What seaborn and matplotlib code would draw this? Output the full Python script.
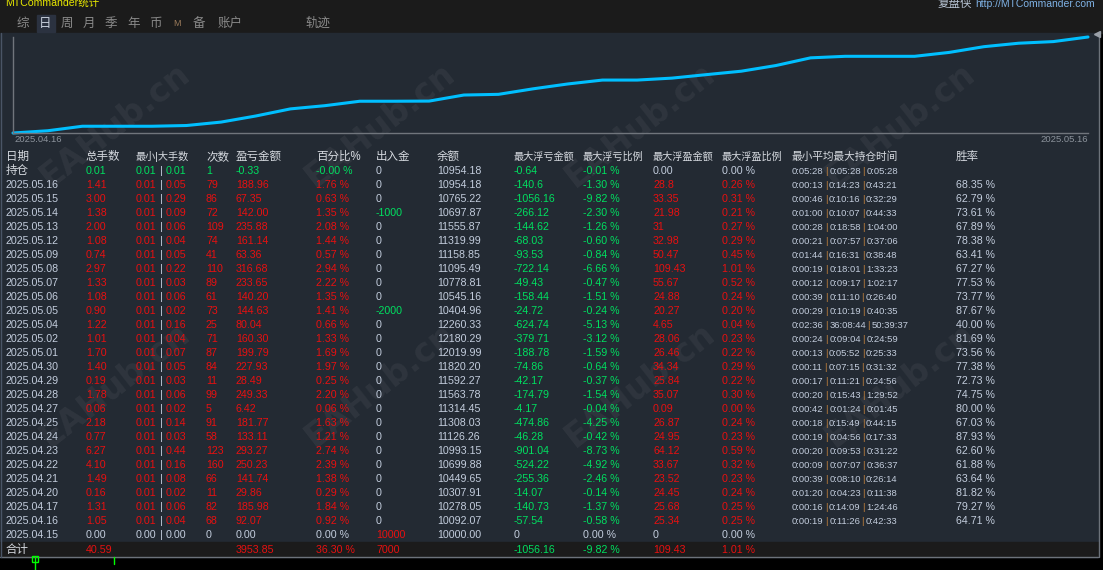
import numpy as np
import pandas as pd
import seaborn as sns
import matplotlib.pyplot as plt
from matplotlib.patches import Rectangle

# table data, newest first (first row is the open position)
row_labels = ['持仓', '2025.05.16', '2025.05.15', '2025.05.14', '2025.05.13', '2025.05.12', '2025.05.09',
              '2025.05.08', '2025.05.07', '2025.05.06', '2025.05.05', '2025.05.04', '2025.05.02', '2025.05.01',
              '2025.04.30', '2025.04.29', '2025.04.28', '2025.04.27', '2025.04.25', '2025.04.24', '2025.04.23',
              '2025.04.22', '2025.04.21', '2025.04.20', '2025.04.17', '2025.04.16', '2025.04.15']
lots_total = [0.01, 1.41, 3.00, 1.38, 2.00, 1.08, 0.74, 2.97, 1.33, 1.08, 0.90, 1.22, 1.01, 1.70,
              1.40, 0.19, 1.78, 0.06, 2.18, 0.77, 6.27, 4.10, 1.49, 0.16, 1.31, 1.05, 0.00]
lot_min = [0.01, 0.01, 0.01, 0.01, 0.01, 0.01, 0.01, 0.01, 0.01, 0.01, 0.01, 0.01, 0.01, 0.01,
           0.01, 0.01, 0.01, 0.01, 0.01, 0.01, 0.01, 0.01, 0.01, 0.01, 0.01, 0.01, 0.00]
lot_max = [0.01, 0.05, 0.29, 0.09, 0.06, 0.04, 0.05, 0.22, 0.03, 0.06, 0.02, 0.16, 0.04, 0.07,
           0.05, 0.03, 0.06, 0.02, 0.14, 0.03, 0.44, 0.16, 0.08, 0.02, 0.06, 0.04, 0.00]
trades = [1, 79, 86, 72, 109, 74, 41, 110, 89, 61, 73, 25, 71, 87, 84, 11, 99, 5, 91, 58, 123, 160,
          66, 11, 82, 68, 0]
pnl = [-0.33, 188.96, 67.35, 142.00, 235.88, 161.14, 63.36, 316.68, 233.65, 140.20, 144.63, 80.04,
       160.30, 199.79, 227.93, 28.49, 249.33, 6.42, 181.77, 133.11, 293.27, 250.23, 141.74, 29.86,
       185.98, 92.07, 0.00]
pnl_pct = [-0.003, 1.76, 0.63, 1.35, 2.08, 1.44, 0.57, 2.94, 2.22, 1.35, 1.41, 0.66, 1.33, 1.69,
           1.97, 0.25, 2.20, 0.06, 1.63, 1.21, 2.74, 2.39, 1.38, 0.29, 1.84, 0.92, 0.00]
cash_flow = [0, 0, 0, -1000, 0, 0, 0, 0, 0, 0, -2000, 0, 0, 0, 0, 0, 0, 0, 0, 0, 0, 0, 0, 0, 0, 0, 10000]
balance = [10954.18, 10954.18, 10765.22, 10697.87, 11555.87, 11319.99, 11158.85, 11095.49, 10778.81,
           10545.16, 10404.96, 12260.33, 12180.29, 12019.99, 11820.20, 11592.27, 11563.78, 11314.45,
           11308.03, 11126.26, 10993.15, 10699.88, 10449.65, 10307.91, 10278.05, 10092.07, 10000.00]
float_loss = ['-0.64', '-140.6', '-1056.16', '-266.12', '-144.62', '-68.03', '-93.53', '-722.14', '-49.43',
              '-158.44', '-24.72', '-624.74', '-379.71', '-188.78', '-74.86', '-42.17', '-174.79', '-4.17',
              '-474.86', '-46.28', '-901.04', '-524.22', '-255.36', '-14.07', '-140.73', '-57.54', '0']
float_loss_pct = [-0.01, -1.30, -9.82, -2.30, -1.26, -0.60, -0.84, -6.66, -0.47, -1.51, -0.24, -5.13,
                  -3.12, -1.59, -0.64, -0.37, -1.54, -0.04, -4.25, -0.42, -8.73, -4.92, -2.46, -0.14,
                  -1.37, -0.58, 0.00]
float_gain = ['0.00', '28.8', '33.35', '21.98', '31', '32.98', '50.47', '109.43', '55.67', '24.88', '20.27',
              '4.65', '28.06', '26.46', '34.34', '25.84', '35.07', '0.09', '26.87', '24.95', '64.12', '33.67',
              '23.52', '24.45', '25.68', '25.34', '0']
float_gain_pct = [0.00, 0.26, 0.31, 0.21, 0.27, 0.29, 0.45, 1.01, 0.52, 0.24, 0.20, 0.04, 0.23, 0.22,
                  0.29, 0.22, 0.30, 0.00, 0.24, 0.23, 0.59, 0.32, 0.23, 0.24, 0.25, 0.25, 0.00]
hold_time = ['0:05:28|0:05:28|0:05:28', '0:00:13|0:14:23|0:43:21', '0:00:46|0:10:16|0:32:29',
             '0:01:00|0:10:07|0:44:33', '0:00:28|0:18:58|1:04:00', '0:00:21|0:07:57|0:37:06',
             '0:01:44|0:16:31|0:38:48', '0:00:19|0:18:01|1:33:23', '0:00:12|0:09:17|1:02:17',
             '0:00:39|0:11:10|0:26:40', '0:00:29|0:10:19|0:40:35', '0:02:36|36:08:44|50:39:37',
             '0:00:24|0:09:04|0:24:59', '0:00:13|0:05:52|0:25:33', '0:00:11|0:07:15|0:31:32',
             '0:00:17|0:11:21|0:24:56', '0:00:20|0:15:43|1:29:52', '0:00:42|0:01:24|0:01:45',
             '0:00:18|0:15:49|0:44:15', '0:00:19|0:04:56|0:17:33', '0:00:20|0:09:53|0:31:22',
             '0:00:09|0:07:07|0:36:37', '0:00:39|0:08:10|0:26:14', '0:01:20|0:04:23|0:11:38',
             '0:00:16|0:14:09|1:24:46', '0:00:19|0:11:26|0:42:33', '']
win_rate = [None, 68.35, 62.79, 73.61, 67.89, 78.38, 63.41, 67.27, 77.53, 73.77, 87.67, 40.00, 81.69,
            73.56, 77.38, 72.73, 74.75, 80.00, 67.03, 87.93, 62.60, 61.88, 63.64, 81.82, 79.27, 64.71, None]

headers = ['日期', '总手数', '最小|大手数', '次数', '盈亏金额', '百分比%', '出入金', '余额',
           '最大浮亏金额', '最大浮亏比例', '最大浮盈金额', '最大浮盈比例', '最小平均最大持仓时间', '胜率']

total_lots = 40.59
total_pnl = 3953.85
total_pct = 36.30
total_cash = 7000
total_float_loss = '-1056.16'
total_float_loss_pct = -9.82
total_float_gain = '109.43'
total_float_gain_pct = 1.01

tabs = ['综', '日', '周', '月', '季', '年', '币', 'M', '备', '账户', '轨迹']

# equity curve: closed profit over calendar time, rising through each trading day
daily = pd.DataFrame({'date': pd.to_datetime(row_labels[1:-1][::-1], format='%Y.%m.%d'),
                      'pnl': pnl[1:-1][::-1]})
daily['after'] = daily['pnl'].cumsum()
daily['before'] = daily['after'] - daily['pnl']
curve = pd.concat([
    pd.DataFrame({'time': daily['date'], 'profit': daily['before'], 'k': 0}),
    pd.DataFrame({'time': daily['date'] + pd.Timedelta(days=1), 'profit': daily['after'], 'k': 1}),
]).sort_values(['time', 'k']).reset_index(drop=True)

RED = '#e81010'
GREEN = '#00e060'
WHITE = '#c3cddd'
ORANGE = '#c8843c'
PANEL = '#232a33'
BAR = '#1b1b1b'


def sign_color(v):
    if v > 0:
        return RED
    if v < 0:
        return GREEN
    return WHITE


sns.set_theme(style='dark')
plt.rcParams['font.family'] = ['Liberation Sans', 'Noto Sans CJK SC', 'DejaVu Sans']

W, H = 1103, 570
fig = plt.figure(figsize=(W / 100, H / 100), dpi=100)
fig.patch.set_facecolor('black')
renderer = fig.canvas.get_renderer()

# background / table axes in pixel units
bg = fig.add_axes([0, 0, 1, 1])
bg.set_xlim(0, W)
bg.set_ylim(H, 0)
bg.axis('off')
bg.add_patch(Rectangle((0, 0), W, 33, color=BAR, zorder=0))
bg.add_patch(Rectangle((0, 33), 1098, 524, color=PANEL, zorder=0))
bg.add_patch(Rectangle((0, 542), 1098, 14, color=BAR, zorder=0))
bg.plot([0, 1098], [556.5, 556.5], color='#6c727a', lw=1)
bg.plot([1098.5, 1098.5], [33, 557], color='#6c727a', lw=1)
bg.plot([1.0, 1.0], [33, 557], color='#4a5566', lw=1)
bg.plot([1097], [34], marker='<', color='#9aa0a8', ms=4)
bg.plot([35, 35], [557, 570], color='#00ff00', lw=1)
bg.plot([35], [558.5], marker='s', mfc='none', mec='#00ff00', ms=4, mew=1)
bg.plot([114, 114], [557, 564], color='#00ff00', lw=1)

# watermarks
for wy in [125, 385]:
    for wx in [115, 380, 640, 900]:
        bg.text(wx, wy, 'EAHub.cn', fontsize=24, fontweight='bold', color='white', alpha=0.055,
                rotation=38, ha='center', va='center', family='DejaVu Sans')

# top bar
bg.text(5, 3, 'MTCommander统计', color='#e8e800', fontsize=7.6, va='center', ha='left')
bg.text(1095, 4, 'http://MTCommander.com', color='#7fb2e5', fontsize=7.5, va='center', ha='right')
bg.text(972, 4, '复盘侠', color='#b8c4d4', fontsize=8.3, va='center', ha='right')
tab_x = [17, 39, 61, 83, 105, 127, 149, 173, 193, 218, 305]
bg.add_patch(Rectangle((37, 15), 18, 17, color='#2b3240', zorder=1))
for tx, t in zip(tab_x, tabs):
    col = '#c8d0dc' if t == '日' else '#8a8a8a'
    size = 6.5 if t == 'M' else 9
    if t == 'M':
        col = '#9a7a5a'
    bg.text(tx, 24, t, color=col, fontsize=size, va='center', ha='left', zorder=2)

# equity curve
ax = fig.add_axes([13 / W, 1 - 133 / H, 1075 / W, 96 / H])
ax.set_facecolor('none')
sns.lineplot(data=curve, x='time', y='profit', ax=ax, color='#00bfff', linewidth=2.2,
             estimator=None, sort=False)
for l in ax.lines:
    l.set_clip_on(False)
ax.set_xlim(curve['time'].min(), curve['time'].max())
ax.set_ylim(0, curve['profit'].max())
ax.set_xticks([])
ax.set_yticks([])
ax.set_xlabel('')
ax.set_ylabel('')
for s in ['top', 'right']:
    ax.spines[s].set_visible(False)
for s in ['left', 'bottom']:
    ax.spines[s].set_visible(True)
    ax.spines[s].set_color('#70757c')
    ax.spines[s].set_linewidth(1)
bg.text(14, 140, daily['date'].iloc[0].strftime('%Y.%m.%d'), color='#8c939c', fontsize=6.8,
        va='center', ha='left')
bg.text(1088, 140, daily['date'].iloc[-1].strftime('%Y.%m.%d'), color='#8c939c', fontsize=6.8,
        va='center', ha='right')

# table
col_x = [6, 86, 136, 206, 236, 316, 376, 437, 514, 583, 653, 722, 792, 956]
header_y, first_y, step = 157, 171, 14
FS = 7.7
for x, h in zip(col_x, headers):
    hs = 7.3 if len(h) == 6 else (7.7 if len(h) > 6 else 8.3)
    bg.text(x, header_y, h, color='#d6dae0', fontsize=hs, va='center', ha='left')


def time_cell(x, y, s):
    # three durations separated by orange bars
    parts = s.split('|')
    for j, p in enumerate(parts):
        t = bg.text(x, y, p, color=WHITE, fontsize=6.8, va='center')
        x = t.get_window_extent(renderer).x1
        if j < len(parts) - 1:
            bar = bg.text(x + 1.5, y, '|', color=ORANGE, fontsize=6.8, va='center')
            x = bar.get_window_extent(renderer).x1 + 1.5


for i, lab in enumerate(row_labels):
    y = first_y + i * step
    rc = sign_color(pnl[i])
    lab_col = '#d6dae0' if i == 0 else WHITE
    bg.text(col_x[0], y, lab, color=lab_col, fontsize=8.3 if i == 0 else FS, va='center')
    bg.text(col_x[1], y, f'{lots_total[i]:.2f}', color=rc, fontsize=FS, va='center')
    bg.text(col_x[2], y, f'{lot_min[i]:.2f}', color=rc, fontsize=FS, va='center')
    bg.text(col_x[2] + 24, y, '|', color=WHITE, fontsize=FS, va='center')
    bg.text(col_x[2] + 30, y, f'{lot_max[i]:.2f}', color=rc, fontsize=FS, va='center')
    bg.text(col_x[3], y, f'{trades[i]}', color=rc, fontsize=FS, va='center')
    bg.text(col_x[4], y, f'{pnl[i]:.2f}', color=rc, fontsize=FS, va='center')
    bg.text(col_x[5], y, f'{pnl_pct[i]:.2f} %', color=rc, fontsize=FS, va='center')
    bg.text(col_x[6], y, f'{cash_flow[i]}', color=sign_color(cash_flow[i]), fontsize=FS, va='center')
    bg.text(col_x[7], y, f'{balance[i]:.2f}', color=WHITE, fontsize=FS, va='center')
    lc = sign_color(float(float_loss[i]))
    bg.text(col_x[8], y, float_loss[i], color=lc, fontsize=FS, va='center')
    bg.text(col_x[9], y, f'{float_loss_pct[i]:.2f} %', color=lc, fontsize=FS, va='center')
    gc = sign_color(float(float_gain[i]))
    bg.text(col_x[10], y, float_gain[i], color=gc, fontsize=FS, va='center')
    bg.text(col_x[11], y, f'{float_gain_pct[i]:.2f} %', color=gc, fontsize=FS, va='center')
    if hold_time[i]:
        time_cell(col_x[12], y, hold_time[i])
    if win_rate[i] is not None:
        bg.text(col_x[13], y, f'{win_rate[i]:.2f} %', color=WHITE, fontsize=FS, va='center')

ty = 550
bg.text(col_x[0], ty, '合计', color='#d6dae0', fontsize=8.3, va='center')
bg.text(col_x[1], ty, f'{total_lots:.2f}', color=RED, fontsize=FS, va='center')
bg.text(col_x[4], ty, f'{total_pnl:.2f}', color=RED, fontsize=FS, va='center')
bg.text(col_x[5], ty, f'{total_pct:.2f} %', color=RED, fontsize=FS, va='center')
bg.text(col_x[6], ty, f'{total_cash}', color=RED, fontsize=FS, va='center')
bg.text(col_x[8], ty, total_float_loss, color=GREEN, fontsize=FS, va='center')
bg.text(col_x[9], ty, f'{total_float_loss_pct:.2f} %', color=GREEN, fontsize=FS, va='center')
bg.text(col_x[10], ty, total_float_gain, color=RED, fontsize=FS, va='center')
bg.text(col_x[11], ty, f'{total_float_gain_pct:.2f} %', color=RED, fontsize=FS, va='center')

fig.savefig('out.png', dpi=100, facecolor=fig.get_facecolor())
